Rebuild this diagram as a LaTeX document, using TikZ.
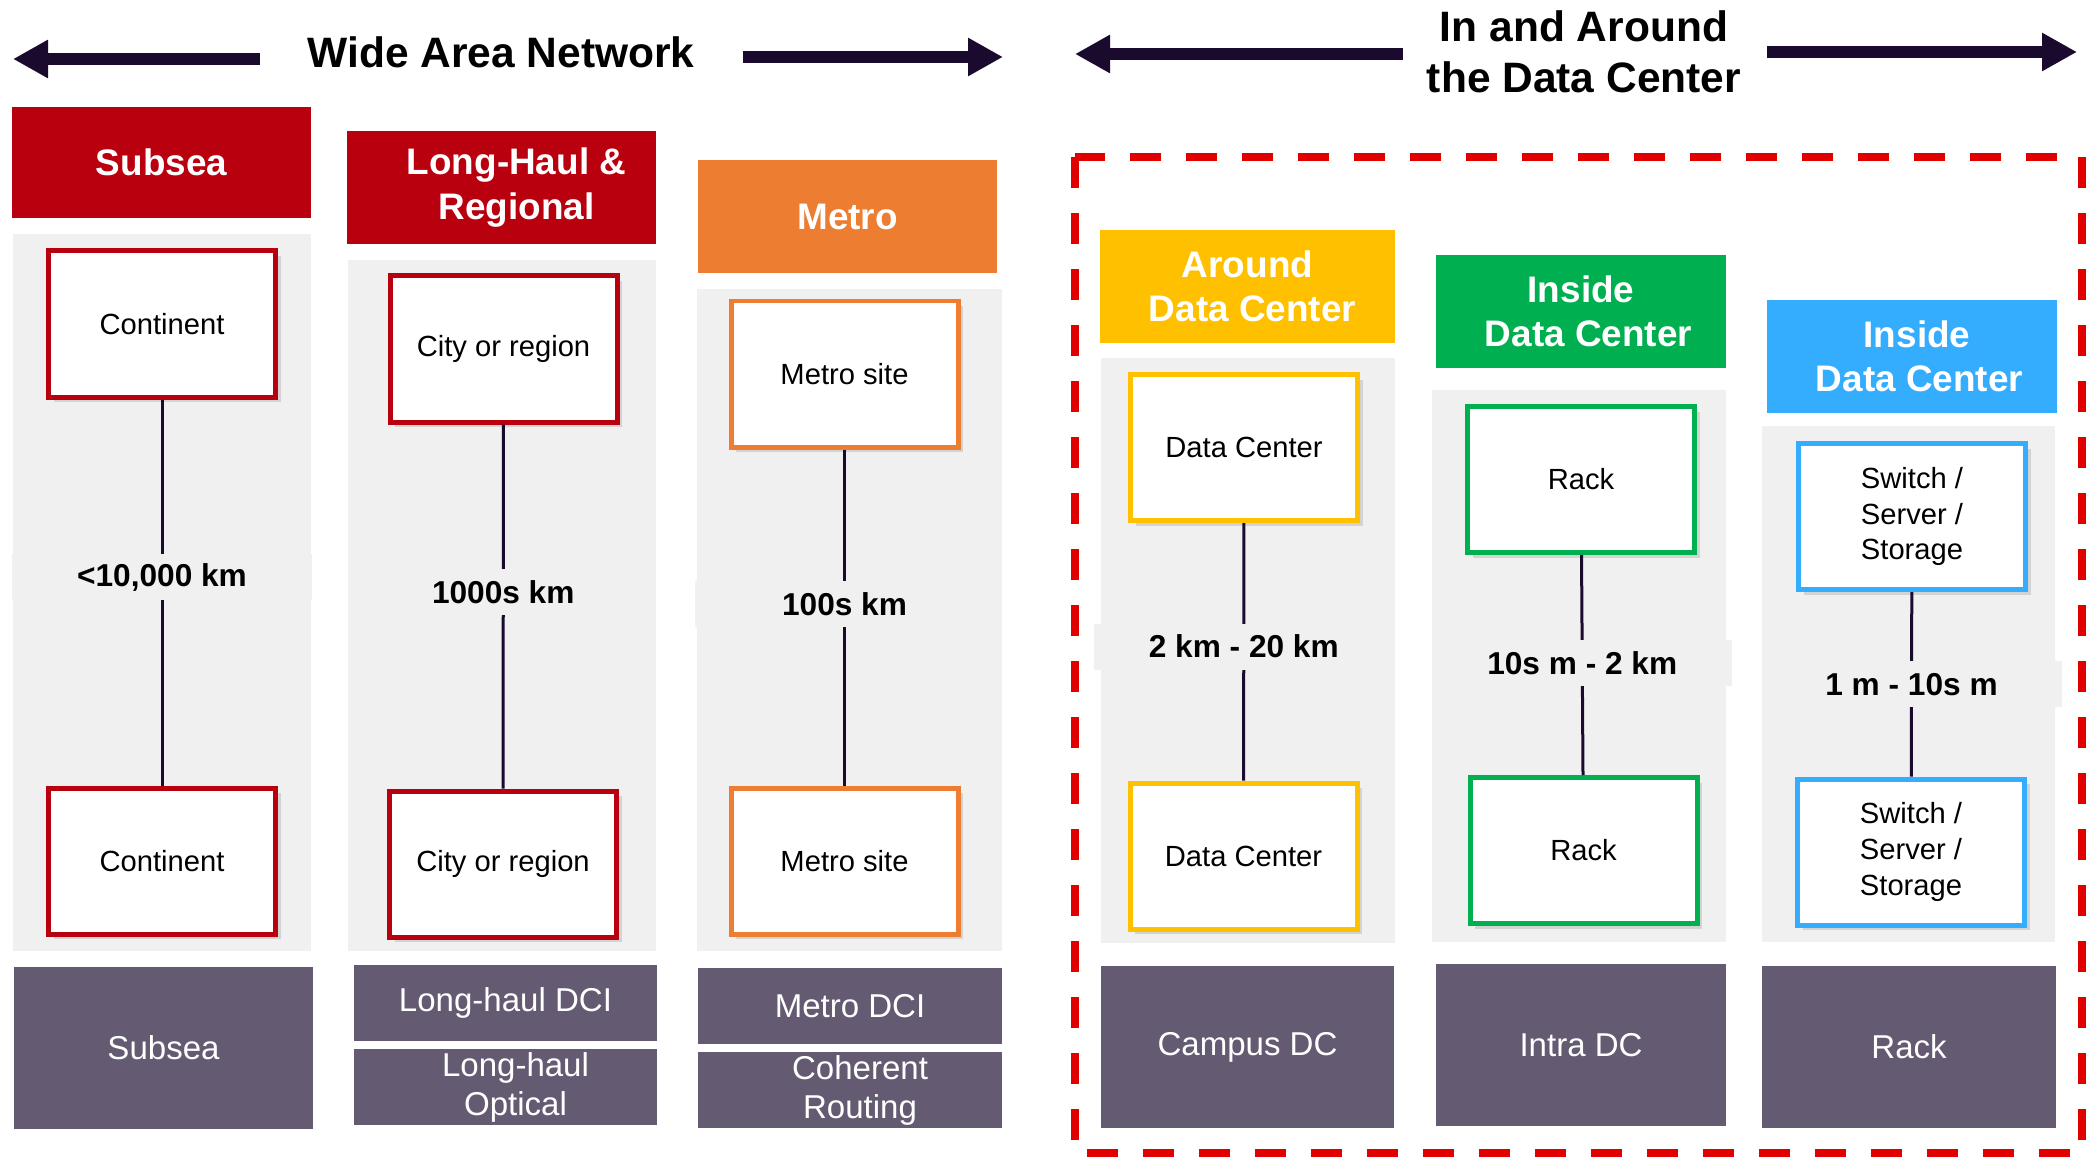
\documentclass[tikz,border=0pt]{standalone}
\usepackage{fontspec}
\setmainfont{Liberation Sans}
\usetikzlibrary{arrows.meta,shadows}

\definecolor{arrowc}{HTML}{1A0B2E}
\definecolor{hred}{HTML}{B8000F}
\definecolor{horange}{HTML}{ED7D31}
\definecolor{hyellow}{HTML}{FFC000}
\definecolor{hgreen}{HTML}{00B050}
\definecolor{hblue}{HTML}{35ADFF}
\definecolor{footc}{HTML}{645A72}
\definecolor{panc}{HTML}{F0F0F0}
\definecolor{dashc}{HTML}{E00000}

\begin{document}
\begin{tikzpicture}[x=0.1mm,y=-0.1mm,
  title/.style={font=\fontsize{12.1}{14.5}\selectfont\bfseries,align=center,inner sep=0pt},
  bigarrow/.style={arrowc,line width=1.2mm,-{Triangle[length=3.5mm,width=3.6mm]}},
  hdr/.style={text=white,font=\fontsize{10.5}{12.6}\selectfont\bfseries,align=center,inner sep=0pt},
  pan/.style={fill=panc,inner sep=0pt},
  site/.style={draw=#1,fill=white,line width=0.5mm,minimum width=22.7mm,minimum height=14.6mm,
    inner sep=0pt,align=center,font=\fontsize{8.3}{10.2}\selectfont,
    drop shadow={shadow xshift=0.5mm,shadow yshift=-0.5mm,opacity=0.25}},
  link/.style={arrowc,line width=0.3mm},
  dist/.style={fill=panc,text=black,font=\fontsize{9}{11}\selectfont\bfseries,minimum width=30mm,minimum height=4.6mm,inner sep=0pt},
  foot/.style={fill=footc,text=white,font=\fontsize{9.4}{11.1}\selectfont,align=center,inner sep=0pt}]
  \useasboundingbox (0,0) rectangle (2095,1157);

  %titles
  \node[title] (wan) at (501,52) {Wide Area Network};
  \node[title] (dca) at (1584,52) {In and Around\\the Data Center};

  %title arrows
  \coordinate (wanla) at (260,59);
  \coordinate (wanlb) at (13,59);
  \coordinate (wanra) at (743,57);
  \coordinate (wanrb) at (1003,57);
  \coordinate (dcla) at (1403,54);
  \coordinate (dclb) at (1075,54);
  \coordinate (dcra) at (1767,52);
  \coordinate (dcrb) at (2077,52);
  \draw[bigarrow] (wanla) -- (wanlb);
  \draw[bigarrow] (wanra) -- (wanrb);
  \draw[bigarrow] (dcla) -- (dclb);
  \draw[bigarrow] (dcra) -- (dcrb);

  %data center frame
  \draw[dashc,line width=0.8mm,dash pattern=on 3.1mm off 2.5mm] (1075,157) rectangle (2082,1153);

  %headers
  \node[hdr,fill=hred,minimum width=29.9mm,minimum height=11.1mm] (h1) at (161.5,162.5) {Subsea};
  \node[hdr,fill=hred,minimum width=30.9mm,minimum height=11.3mm] (h2) at (501.5,187.5) {\hspace*{3mm}Long-Haul \&\\\hspace*{3mm}Regional};
  \node[hdr,fill=horange,minimum width=29.9mm,minimum height=11.3mm] (h3) at (847.5,216.5) {Metro};
  \node[hdr,fill=hyellow,minimum width=29.5mm,minimum height=11.3mm] (h4) at (1247.5,286.5) {Around\\\hspace*{1mm}Data Center};
  \node[hdr,fill=hgreen,minimum width=29mm,minimum height=11.3mm] (h5) at (1581,311.5) {Inside\\\hspace*{1.5mm}Data Center};
  \node[hdr,fill=hblue,minimum width=29mm,minimum height=11.3mm] (h6) at (1912,356.5) {\hspace*{1mm}Inside\\\hspace*{1.5mm}Data Center};

  %panels
  \node[pan,minimum width=29.8mm,minimum height=71.7mm] (p1) at (162,592.5) {};
  \node[pan,minimum width=30.8mm,minimum height=69.1mm] (p2) at (502,605.5) {};
  \node[pan,minimum width=30.5mm,minimum height=66.2mm] (p3) at (849.5,620) {};
  \node[pan,minimum width=29.4mm,minimum height=58.5mm] (p4) at (1248,650.5) {};
  \node[pan,minimum width=29.4mm,minimum height=55.2mm] (p5) at (1579,666) {};
  \node[pan,minimum width=29.3mm,minimum height=51.6mm] (p6) at (1908.5,684) {};

  %end points
  \node[site=hred] (t1) at (162,324) {Continent};
  \node[site=hred] (b1) at (162,861) {Continent};
  \node[site=hred] (t2) at (503.5,349) {City or region};
  \node[site=hred] (b2) at (503,864) {City or region};
  \node[site=horange] (t3) at (844.5,374) {Metro site};
  \node[site=horange] (b3) at (844.5,861) {Metro site};
  \node[site=hyellow] (t4) at (1244,447.5) {Data Center};
  \node[site=hyellow] (b4) at (1243.5,856) {Data Center};
  \node[site=hgreen] (t5) at (1581,479.5) {Rack};
  \node[site=hgreen] (b5) at (1583.5,850.5) {Rack};
  \node[site=hblue] (t6) at (1912,516.5) {Switch /\\Server /\\Storage};
  \node[site=hblue] (b6) at (1911,852) {Switch /\\Server /\\Storage};

  %distances
  \draw[link] (t1) -- node[dist,pos=0.46]{<10,000 km} (b1);
  \draw[link] (t2) -- node[dist,pos=0.46]{1000s km} (b2);
  \draw[link] (t3) -- node[dist,pos=0.46]{100s km} (b3);
  \draw[link] (t4) -- node[dist,pos=0.48]{2 km - 20 km} (b4);
  \draw[link] (t5) -- node[dist,pos=0.49]{10s m - 2 km} (b5);
  \draw[link] (t6) -- node[dist,pos=0.5]{1 m - 10s m} (b6);

  %applications
  \node[foot,minimum width=29.9mm,minimum height=16.2mm] (f1) at (163.5,1048) {Subsea};
  \node[foot,minimum width=30.3mm,minimum height=7.6mm] (f2a) at (505.5,1003) {Long-haul DCI};
  \node[foot,minimum width=30.3mm,minimum height=7.6mm] (f2b) at (505.5,1087) {\hspace*{2mm}Long-haul\\\hspace*{2mm}Optical};
  \node[foot,minimum width=30.4mm,minimum height=7.6mm] (f3a) at (850,1006) {Metro DCI};
  \node[foot,minimum width=30.4mm,minimum height=7.6mm] (f3b) at (850,1090) {\hspace*{2mm}Coherent\\\hspace*{2mm}Routing};
  \node[foot,minimum width=29.3mm,minimum height=16.2mm] (f4) at (1247.5,1047) {Campus DC};
  \node[foot,minimum width=29mm,minimum height=16.2mm] (f5) at (1581,1045) {Intra DC};
  \node[foot,minimum width=29.4mm,minimum height=16.2mm] (f6) at (1909,1047) {Rack};
\end{tikzpicture}
\end{document}
